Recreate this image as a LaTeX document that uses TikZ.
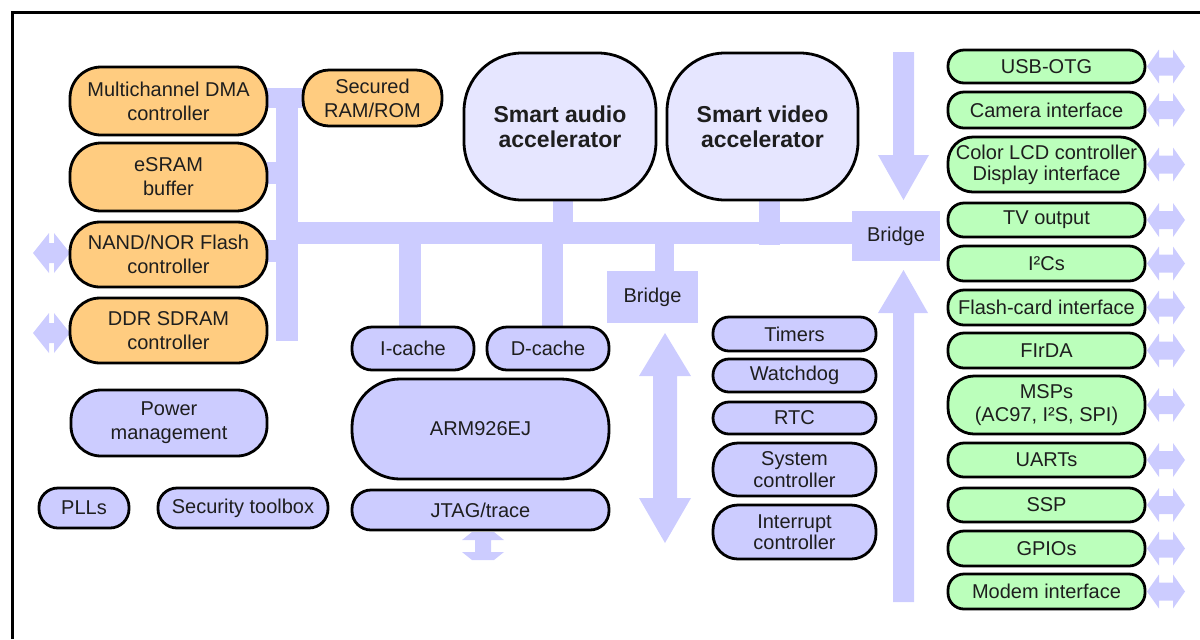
\documentclass[tikz,border=0pt]{standalone}
\usepackage{fontspec}
\setmainfont{Liberation Sans}
\definecolor{orangeF}{RGB}{255,204,128}
\definecolor{busC}{RGB}{204,204,255}
\definecolor{lavF}{RGB}{204,204,255}
\definecolor{accF}{RGB}{230,230,255}
\definecolor{greenF}{RGB}{187,255,187}
\definecolor{txtC}{RGB}{30,30,30}
\tikzset{
 blkbase/.style={draw=black, line width=1.4pt, inner sep=0pt, align=center, text=txtC, font=\fontsize{10}{12}\selectfont},
 obox/.style={blkbase, fill=orangeF},
 pbox/.style={blkbase, fill=lavF},
 gbox/.style={blkbase, fill=greenF, font=\fontsize{10}{10.5}\selectfont},
 abox/.style={blkbase, fill=accF, font=\bfseries\fontsize{11.5}{12.5}\selectfont},
 brg/.style={fill=busC, inner sep=0pt, text=txtC, font=\fontsize{10}{12}\selectfont},
 bus/.style={fill=busC},
 frame/.style={draw=black, line width=1.5pt},
}
\newcommand\blk[7]{%
 \pgfmathsetmacro\bw{(#5-#3)*0.5}%
 \pgfmathsetmacro\bh{(#6-#4)*0.5}%
 \node[#1, minimum width=\bw pt, minimum height=\bh pt] (#2) at ({(#3+#5)/2},{(#4+#6)/2}) {#7};}
\newcommand\hdarr[6]{%
 \fill[bus] (#1,#3) -- ({#1+#6},{#3-#4}) -- ({#1+#6},{#3-#5}) -- ({#2-#6},{#3-#5}) -- ({#2-#6},{#3-#4}) -- (#2,#3) -- ({#2-#6},{#3+#4}) -- ({#2-#6},{#3+#5}) -- ({#1+#6},{#3+#5}) -- ({#1+#6},{#3+#4}) -- cycle;}
\begin{document}
\begin{tikzpicture}[x=0.5pt,y=-0.5pt]
\useasboundingbox (0,0) rectangle (1200,639);
\coordinate (fbl) at (12,639);
\coordinate (ftl) at (12,12);
\coordinate (ftr) at (1200,12);
\draw[frame] (fbl) -- (ftl) -- (ftr);

% buses
\fill[bus] (276,88) rectangle (298,341);
\fill[bus] (267,88) rectangle (305,108);
\fill[bus] (265,162) rectangle (278,184);
\fill[bus] (265,240) rectangle (278,262);
\fill[bus] (296,222) rectangle (854,244);
\fill[bus] (553,198) rectangle (573,224);
\fill[bus] (759,198) rectangle (780,245);
\fill[bus] (399,242) rectangle (421,329);
\fill[bus] (542,242) rectangle (563,329);
\fill[bus] (655,242) rectangle (674,272);

% block arrows
\fill[bus] (893,52) -- (914,52) -- (914,155) -- (929,155) -- (903.5,200) -- (878,155) -- (893,155) -- cycle;
\fill[bus] (903.5,270) -- (928,313) -- (914,313) -- (914,602) -- (893,602) -- (893,313) -- (878,313) -- cycle;
\fill[bus] (665,333) -- (691,376) -- (677,376) -- (677,498) -- (691,498) -- (665,543) -- (639,498) -- (653,498) -- (653,376) -- (639,376) -- cycle;
\fill[bus] (472,532) -- (494,532) -- (504,540) -- (491,540) -- (491,552) -- (504,552) -- (494,560) -- (472,560) -- (462,552) -- (475,552) -- (475,540) -- (462,540) -- cycle;
\hdarr{33}{70}{253}{20}{10}{16}
\hdarr{33}{70}{333}{20}{10}{16}
\foreach \cy in {66.5,110,164.5,220,263.5,307.5,350.5,405,460,505,548.5,591.5}{\hdarr{1147}{1185}{\cy}{17}{9}{12}}

% orange blocks
\blk{obox, rounded corners=15.5pt}{dma}{70}{67}{267}{135}{Multichannel DMA\\controller}
\blk{obox, rounded corners=15.5pt}{esram}{70}{143}{267}{211}{eSRAM\\buffer}
\blk{obox, rounded corners=15pt}{nand}{70}{222}{267}{287}{NAND/NOR Flash\\controller}
\blk{obox, rounded corners=15pt}{ddr}{70}{298}{267}{363}{DDR SDRAM\\controller}
\blk{obox, rounded corners=13pt}{sram}{303}{70}{442}{126}{Secured\\RAM/ROM}

% purple blocks left
\blk{pbox, rounded corners=15pt}{pwr}{71}{390}{267}{456}{Power\\management}
\blk{pbox, rounded corners=9.5pt}{pll}{39}{488}{129}{528}{PLLs}
\blk{pbox, rounded corners=9.5pt}{sec}{158}{488}{328}{528}{Security toolbox}

% CPU
\blk{pbox, rounded corners=10pt}{icache}{352}{327}{474}{370}{I-cache}
\blk{pbox, rounded corners=10pt}{dcache}{487}{327}{609}{370}{D-cache}
\blk{pbox, rounded corners=24pt}{arm}{352}{379}{609}{479}{ARM926EJ}
\blk{pbox, rounded corners=9.5pt}{jtag}{352}{490}{609}{530}{JTAG/trace}

% accelerators
\blk{abox, rounded corners=29pt}{audio}{464}{53}{656}{200}{Smart audio\\accelerator}
\blk{abox, rounded corners=29pt}{video}{667}{53}{858}{200}{Smart video\\accelerator}

% bridges
\blk{brg}{br1}{852}{211}{940}{261}{Bridge}
\blk{brg}{br2}{607}{271}{698}{323}{Bridge}

% peripherals
\blk{pbox, rounded corners=8pt}{tim}{713}{317}{876}{351}{Timers}
\blk{pbox, rounded corners=8pt}{wdg}{713}{359}{876}{392}{Watchdog}
\blk{pbox, rounded corners=8pt}{rtc}{713}{402}{876}{434}{RTC}
\blk{pbox, rounded corners=12.5pt, font=\fontsize{10}{11}\selectfont}{sysc}{713}{443}{876}{496}{System\\controller}
\blk{pbox, rounded corners=12.5pt, font=\fontsize{10}{10.5}\selectfont}{intc}{713}{505}{876}{559}{Interrupt\\controller}

% green column
\blk{gbox, rounded corners=8pt}{usb}{948}{50}{1145}{83}{USB-OTG}
\blk{gbox, rounded corners=8pt}{cam}{948}{92}{1145}{128}{Camera interface}
\blk{gbox, rounded corners=12.5pt}{lcd}{948}{137}{1145}{192}{Color LCD controller\\Display interface}
\blk{gbox, rounded corners=8pt}{tv}{948}{203}{1145}{237}{TV output}
\blk{gbox, rounded corners=8pt}{i2c}{948}{246}{1145}{281}{I²Cs}
\blk{gbox, rounded corners=8pt}{fcard}{948}{290}{1145}{325}{Flash-card interface}
\blk{gbox, rounded corners=8pt}{firda}{948}{333}{1145}{368}{FIrDA}
\blk{gbox, rounded corners=13pt, font=\fontsize{10}{11.5}\selectfont}{msp}{948}{376}{1145}{434}{MSPs\\(AC97, I²S, SPI)}
\blk{gbox, rounded corners=8pt}{uart}{948}{443}{1145}{477}{UARTs}
\blk{gbox, rounded corners=8pt}{ssp}{948}{488}{1145}{522}{SSP}
\blk{gbox, rounded corners=8pt}{gpio}{948}{531}{1145}{566}{GPIOs}
\blk{gbox, rounded corners=8pt}{modem}{948}{574}{1145}{609}{Modem interface}
\end{tikzpicture}
\end{document}
